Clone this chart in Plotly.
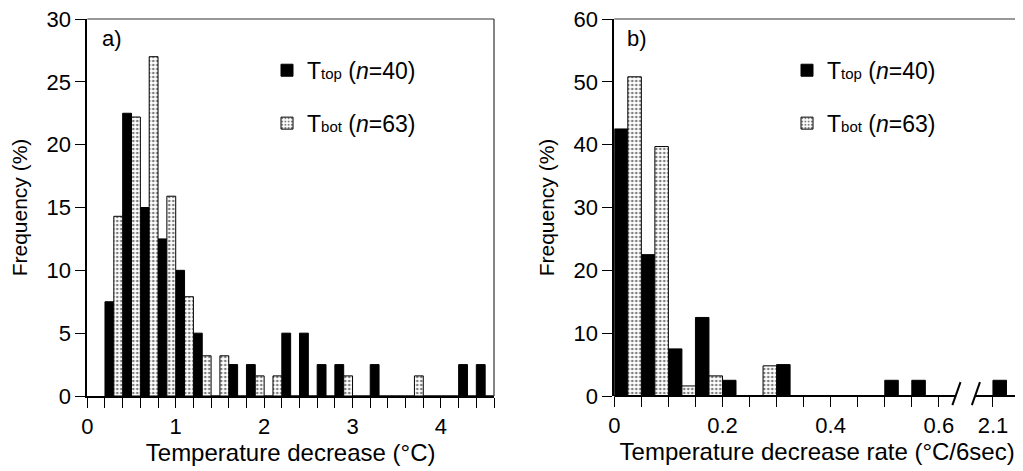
import plotly.graph_objects as go

# ---------------- data ----------------
# Panel a: temperature decrease (°C), bin left edges (bin width 0.2)
temp_bins = [0.2, 0.4, 0.6, 0.8, 1.0, 1.2, 1.4, 1.6, 1.8, 2.0, 2.2,
             2.4, 2.6, 2.8, 3.0, 3.2, 3.4, 3.6, 3.8, 4.0, 4.2, 4.4]
ttop_a = [7.5, 22.5, 15.0, 12.5, 10.0, 5.0, 0, 2.5, 2.5, 0, 5.0,
          5.0, 2.5, 2.5, 0, 2.5, 0, 0, 0, 0, 2.5, 2.5]
tbot_a = [14.3, 22.2, 27.0, 15.9, 7.9, 3.2, 3.2, 0, 1.6, 1.6, 0,
          0, 0, 1.6, 0, 0, 0, 1.6, 0, 0, 0, 0]

# Panel b: temperature decrease rate (°C/6sec), bin left edges (bin width 0.05)
rate_bins = [0.0, 0.05, 0.10, 0.15, 0.20, 0.25, 0.30, 0.35, 0.40,
             0.45, 0.50, 0.55, 2.10]
ttop_b = [42.5, 22.5, 7.5, 12.5, 2.5, 0, 5.0, 0, 0, 0, 2.5, 2.5, 2.5]
tbot_b = [50.8, 39.7, 1.6, 3.2, 0, 4.8, 0, 0, 0, 0, 0, 0, 0]

a_tick_vals = [0, 0.2, 0.4, 0.6, 0.8, 1.0, 1.2, 1.4, 1.6, 1.8, 2.0, 2.2,
               2.4, 2.6, 2.8, 3.0, 3.2, 3.4, 3.6, 3.8, 4.0, 4.2, 4.4, 4.6]
a_tick_text = ["0", "", "", "", "", "1", "", "", "", "", "2", "",
               "", "", "", "3", "", "", "", "", "4", "", "", ""]
b_tick_vals = [0, 0.05, 0.1, 0.15, 0.2, 0.25, 0.3, 0.35, 0.4, 0.45,
               0.5, 0.55, 0.6, 2.1, 2.15]
b_tick_text = ["0", "", "", "", "0.2", "", "", "", "0.4", "",
               "", "", "0.6", "2.1", ""]

# axis break for panel b: values >= 2.1 are drawn right after 0.6
BREAK_FROM, BREAK_TO = 2.1, 0.7


def brk(v):
    return v if v < 1 else v - BREAK_FROM + BREAK_TO


rate_pos = [brk(v) for v in rate_bins]
b_tick_pos = [brk(v) for v in b_tick_vals]
A_RANGE = [0, 4.6]
B_RANGE = [0, brk(2.15)]

FONT = "Liberation Sans, Arial, Helvetica, sans-serif"
DOT = dict(shape=".", fgcolor="black", bgcolor="white", size=4, solidity=0.35)

name_top = "T<span style='font-size:15px'>top</span> (<i>n</i>=40)"
name_bot = "T<span style='font-size:15px'>bot</span> (<i>n</i>=63)"

fig = go.Figure()
fig.add_trace(go.Bar(x=temp_bins, y=ttop_a, width=0.1, offset=0,
                     marker=dict(color="black", line=dict(color="black", width=1)),
                     name=name_top, legendgroup="a1", legend="legend",
                     xaxis="x", yaxis="y"))
fig.add_trace(go.Bar(x=temp_bins, y=tbot_a, width=0.1, offset=0.1,
                     marker=dict(color="white", pattern=DOT,
                                 line=dict(color="black", width=1)),
                     name=name_bot, legendgroup="a2", legend="legend",
                     xaxis="x", yaxis="y"))
fig.add_trace(go.Bar(x=rate_pos, y=ttop_b, width=0.025, offset=0,
                     marker=dict(color="black", line=dict(color="black", width=1)),
                     name=name_top, legendgroup="b1", legend="legend2",
                     xaxis="x2", yaxis="y2"))
fig.add_trace(go.Bar(x=rate_pos, y=tbot_b, width=0.025, offset=0.025,
                     marker=dict(color="white", pattern=DOT,
                                 line=dict(color="black", width=1)),
                     name=name_bot, legendgroup="b2", legend="legend2",
                     xaxis="x2", yaxis="y2"))

tickfont = dict(family=FONT, size=22, color="black")
xtitlefont = dict(family=FONT, size=24, color="black")
ytitlefont = dict(family=FONT, size=21, color="black")

common_x = dict(ticks="outside", ticklen=10, tickwidth=1.2, tickcolor="black",
                tickfont=tickfont, showgrid=False, zeroline=False,
                automargin=False, ticklabeloverflow="allow")
common_y = dict(ticks="outside", ticklen=10, tickwidth=1.2, tickcolor="black",
                tickfont=tickfont, showgrid=False, zeroline=False,
                showline=True, linecolor="black", linewidth=2,
                automargin=False, ticklabelstandoff=0, ticklabeloverflow="allow")

# the page adds an 8px body margin, so the figure is 1015x463
W, H = 1015, 463

fig.update_layout(
    width=W, height=H,
    margin=dict(l=0, r=0, t=11, b=75),
    paper_bgcolor="white", plot_bgcolor="white",
    barmode="overlay",
    font=dict(family=FONT, color="black"),
    xaxis=dict(domain=[79.3 / W, 486 / W], range=A_RANGE, anchor="y",
               tickmode="array", tickvals=a_tick_vals, ticktext=a_tick_text,
               showline=True, linecolor="black", linewidth=2,
               title=dict(text="Temperature decrease (°C)", font=xtitlefont, standoff=5),
               **common_x),
    yaxis=dict(domain=[0, 1], range=[0, 30], anchor="x", dtick=5,
               title=dict(text="Frequency (%)", font=ytitlefont, standoff=13),
               **common_y),
    xaxis2=dict(domain=[606.3 / W, 1012 / W], range=B_RANGE, anchor="y2",
                tickmode="array", tickvals=b_tick_pos, ticktext=b_tick_text,
                showline=False,
                title=dict(text="Temperature decrease rate (°C/6sec)", font=xtitlefont, standoff=5),
                **common_x),
    yaxis2=dict(domain=[0, 1], range=[0, 60], anchor="x2", dtick=10,
                title=dict(text="Frequency (%)", font=ytitlefont, standoff=13),
                **common_y),
    legend=dict(x=259 / W, xanchor="left", y=0.921, yanchor="top",
                bgcolor="rgba(0,0,0,0)", tracegroupgap=20,
                font=dict(family=FONT, size=23, color="black")),
    legend2=dict(x=779 / W, xanchor="left", y=0.921, yanchor="top",
                 bgcolor="rgba(0,0,0,0)", tracegroupgap=20,
                 font=dict(family=FONT, size=23, color="black")),
    showlegend=True,
)

# frames (top/right) as thin lines
frame = dict(color="#333333", width=1.2)
for xr, yr in (("x domain", "y domain"), ("x2 domain", "y2 domain")):
    fig.add_shape(type="line", xref=xr, yref=yr, x0=0, x1=1, y0=1, y1=1, line=frame)
    fig.add_shape(type="line", xref=xr, yref=yr, x0=1, x1=1, y0=0, y1=1, line=frame)


def bdom(v):
    return (v - B_RANGE[0]) / (B_RANGE[1] - B_RANGE[0])


# broken bottom axis for panel b
gap_l, gap_r = 0.632, 0.668
axis_line = dict(color="black", width=2)
fig.add_shape(type="line", xref="x2 domain", yref="y2 domain",
              x0=0, x1=bdom(gap_l), y0=0, y1=0, line=axis_line)
fig.add_shape(type="line", xref="x2 domain", yref="y2 domain",
              x0=bdom(gap_r), x1=1, y0=0, y1=0, line=axis_line)
for g in (gap_l, gap_r):
    fig.add_shape(type="line", xref="x2 domain", yref="y2 domain",
                  x0=bdom(g - 0.007), x1=bdom(g + 0.008), y0=-0.024, y1=0.037,
                  line=dict(color="black", width=2))

fig.add_annotation(text="a)", xref="x domain", yref="y domain", x=0.03, y=0.948,
                   xanchor="left", yanchor="middle", showarrow=False,
                   font=dict(family=FONT, size=22, color="black"))
fig.add_annotation(text="b)", xref="x2 domain", yref="y2 domain", x=0.026, y=0.948,
                   xanchor="left", yanchor="middle", showarrow=False,
                   font=dict(family=FONT, size=22, color="black"))

fig.write_html("out.html")
